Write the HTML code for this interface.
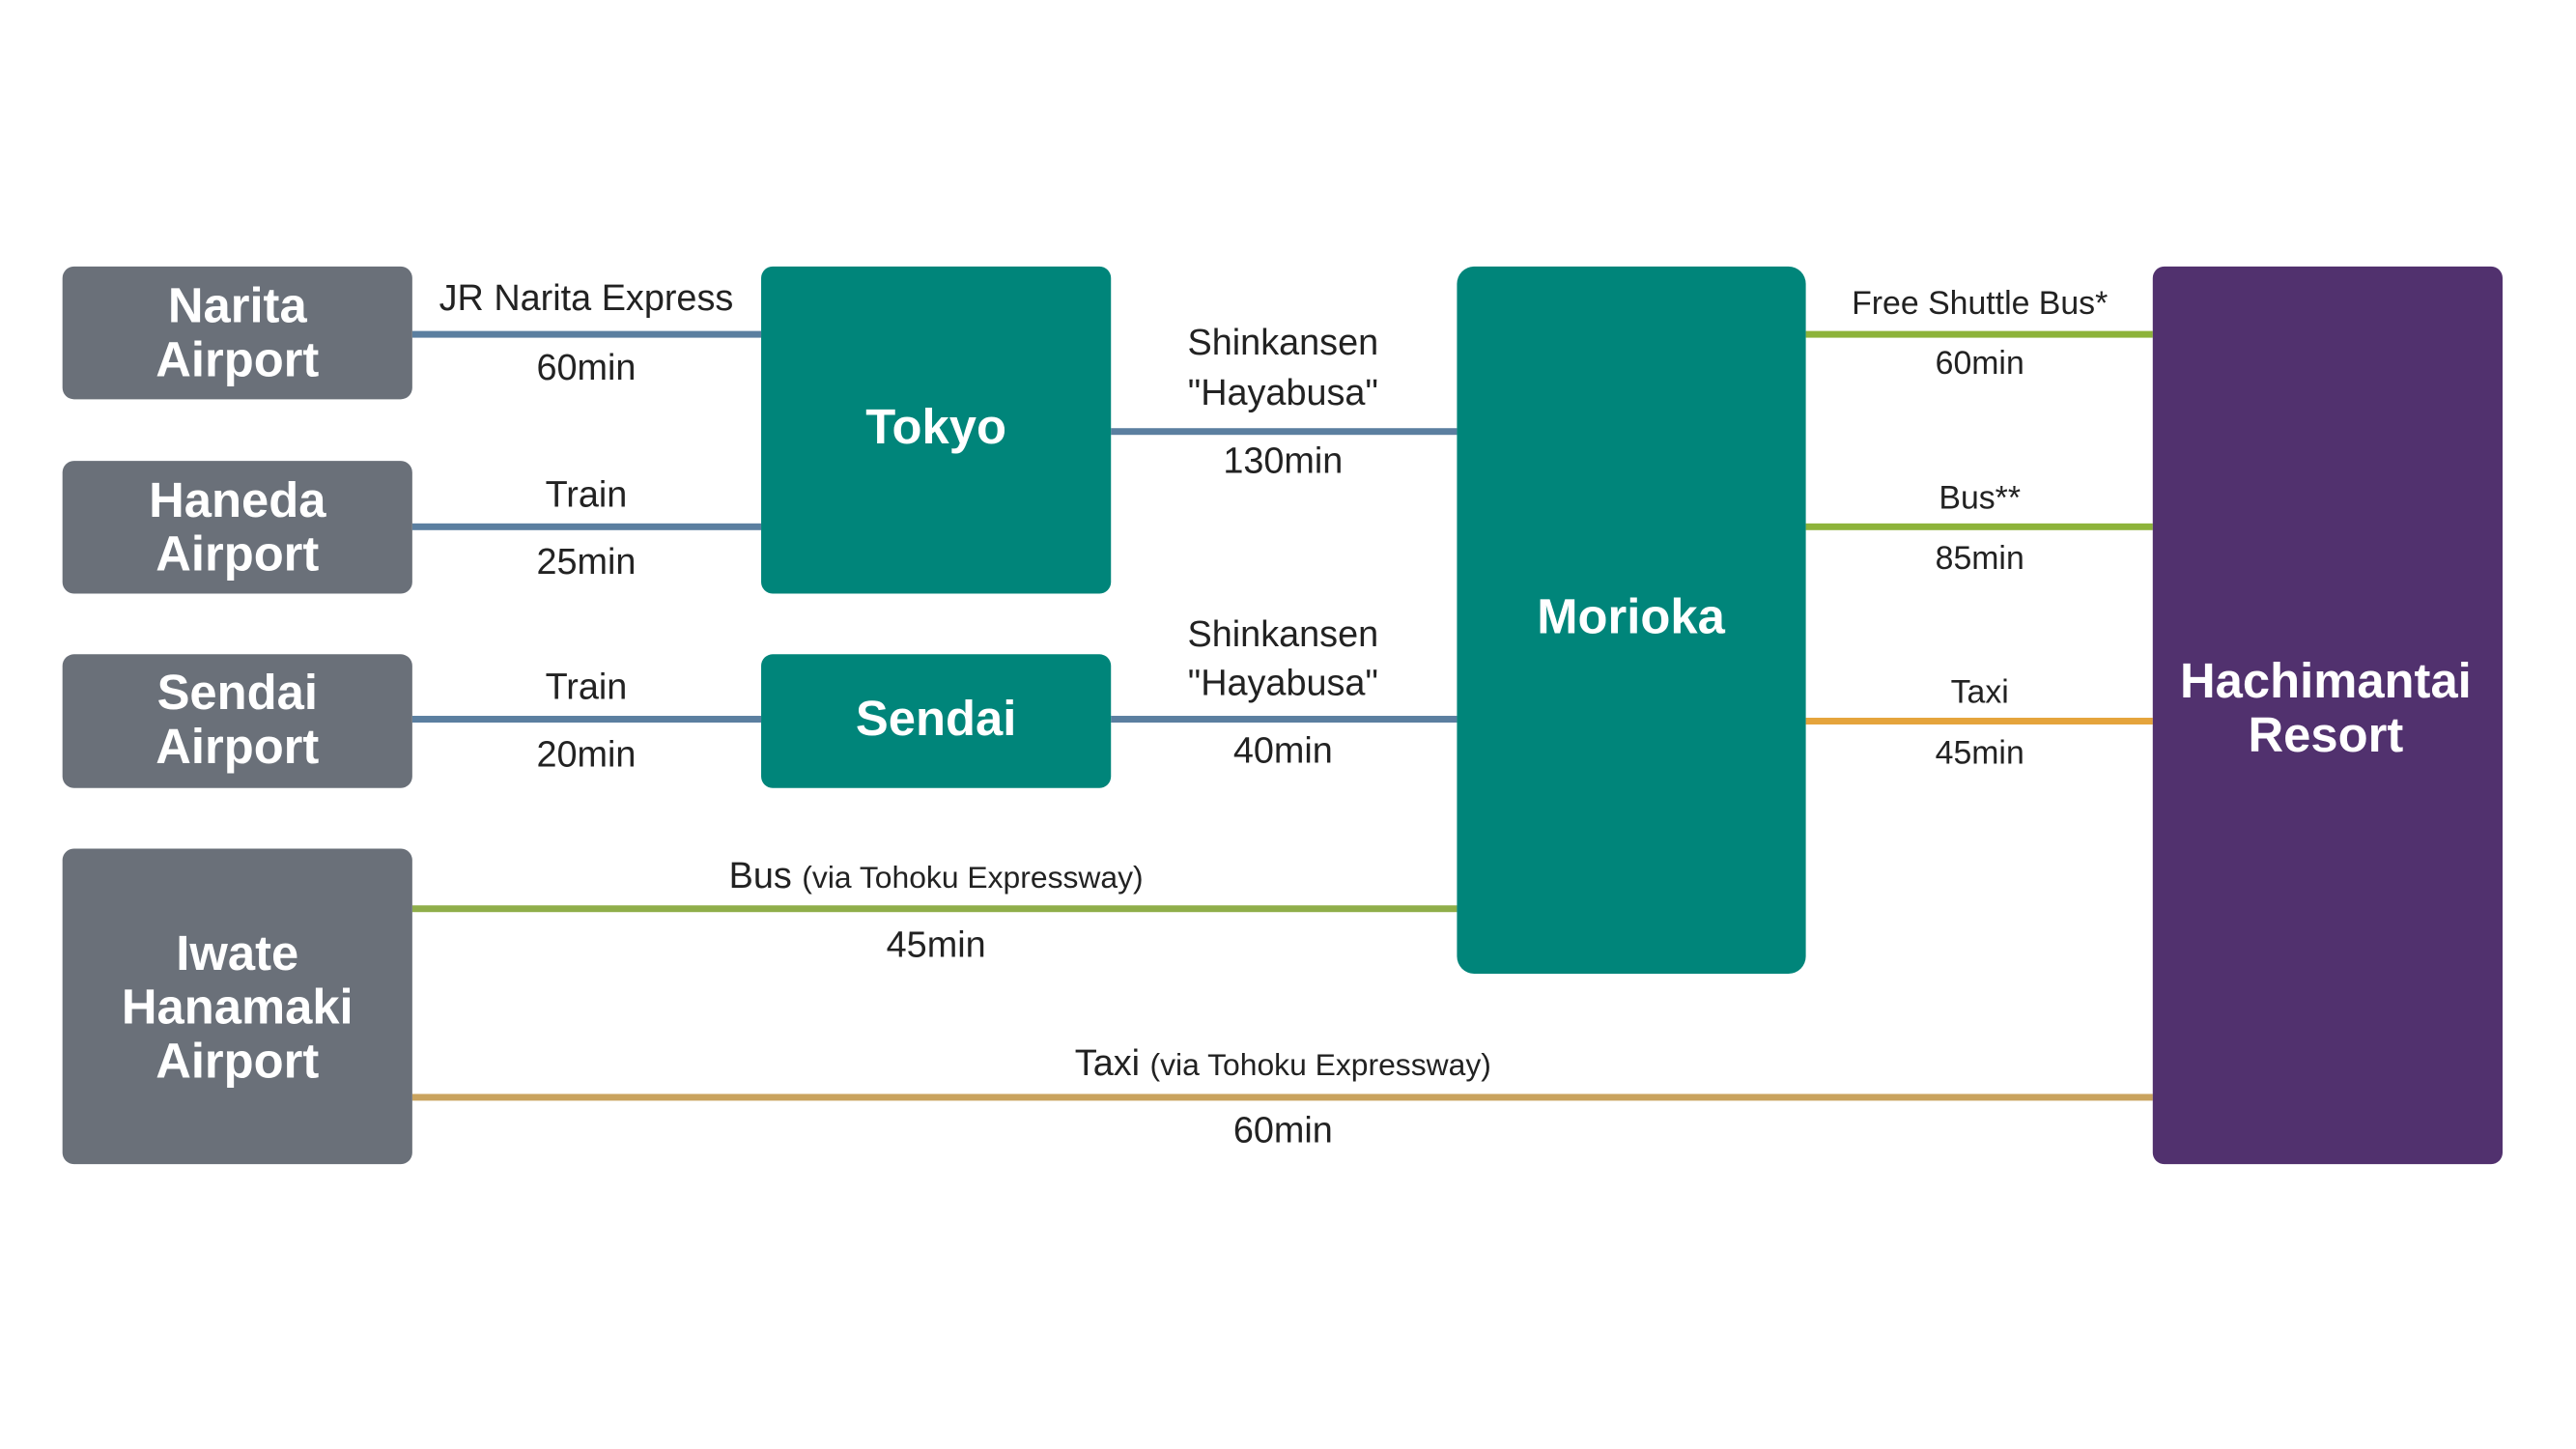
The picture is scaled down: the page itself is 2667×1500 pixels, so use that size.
<!DOCTYPE html>
<html><head><meta charset="utf-8"><style>
body{margin:0;width:2667px;height:1500px;background:#fff;position:relative;overflow:hidden;font-family:"Liberation Sans",sans-serif}
#w{position:absolute;left:0;top:0;width:2667px;height:1500px;transform:scale(0.995,0.996);transform-origin:0 0}
.b{position:absolute;border-radius:12px}
.g{background:#6a7079}.t{background:#00857a}.p{background:#51316e}
.l{position:absolute;height:7px}
.x{position:absolute;transform:translate(-50%,-50%);white-space:nowrap;text-align:center}
.w{color:#fff;font-size:51px;font-weight:bold;line-height:56px}
.k{color:#222;font-size:38px}
.s{color:#222;font-size:34px}
.sm{font-size:32px}
</style></head><body><div id="w">
<div class="l" style="left:429px;width:363px;top:344px;background:#5b7fa0"></div>
<div class="l" style="left:429px;width:363px;top:544px;background:#5b7fa0"></div>
<div class="l" style="left:429px;width:363px;top:744px;background:#5b7fa0"></div>
<div class="l" style="left:1156px;width:360px;top:445px;background:#5b7fa0"></div>
<div class="l" style="left:1156px;width:360px;top:744px;background:#5b7fa0"></div>
<div class="l" style="left:429px;width:1087px;top:941px;background:#8fae4a"></div>
<div class="l" style="left:429px;width:1811px;top:1137px;background:#c9a35e"></div>
<div class="l" style="left:1879px;width:361px;top:344px;background:#8db33a"></div>
<div class="l" style="left:1879px;width:361px;top:544px;background:#8db33a"></div>
<div class="l" style="left:1879px;width:361px;top:746px;background:#e5a43c"></div>

<div class="b g" style="left:65px;top:277px;width:364px;height:138px"></div>
<div class="b g" style="left:65px;top:479px;width:364px;height:138px"></div>
<div class="b g" style="left:65px;top:680px;width:364px;height:139px"></div>
<div class="b g" style="left:65px;top:882px;width:364px;height:328px"></div>
<div class="b t" style="left:792px;top:277px;width:364px;height:340px"></div>
<div class="b t" style="left:792px;top:680px;width:364px;height:139px"></div>
<div class="b t" style="left:1516px;top:277px;width:363px;height:735px;border-radius:18px"></div>
<div class="b p" style="left:2240px;top:277px;width:364px;height:933px"></div>

<div class="x w" style="left:247px;top:346px">Narita<br>Airport</div>
<div class="x w" style="left:247px;top:548px">Haneda<br>Airport</div>
<div class="x w" style="left:247px;top:748px">Sendai<br>Airport</div>
<div class="x w" style="left:247px;top:1047px">Iwate<br>Hanamaki<br>Airport</div>
<div class="x w" style="left:974px;top:444px">Tokyo</div>
<div class="x w" style="left:974px;top:747px">Sendai</div>
<div class="x w" style="left:1697px;top:641px">Morioka</div>
<div class="x w" style="left:2420px;top:736px">Hachimantai<br>Resort</div>

<div class="x k" style="left:610px;top:311px">JR Narita Express</div>
<div class="x k" style="left:610px;top:383px">60min</div>
<div class="x k" style="left:610px;top:515px">Train</div>
<div class="x k" style="left:610px;top:585px">25min</div>
<div class="x k" style="left:610px;top:715px">Train</div>
<div class="x k" style="left:610px;top:785px">20min</div>
<div class="x k" style="left:1335px;top:357px">Shinkansen</div>
<div class="x k" style="left:1335px;top:409px">"Hayabusa"</div>
<div class="x k" style="left:1335px;top:480px">130min</div>
<div class="x k" style="left:1335px;top:660px">Shinkansen</div>
<div class="x k" style="left:1335px;top:711px">"Hayabusa"</div>
<div class="x k" style="left:1335px;top:781px">40min</div>
<div class="x k" style="left:974px;top:911px">Bus <span class="sm">(via Tohoku Expressway)</span></div>
<div class="x k" style="left:974px;top:983px">45min</div>
<div class="x k" style="left:1335px;top:1106px">Taxi <span class="sm">(via Tohoku Expressway)</span></div>
<div class="x k" style="left:1335px;top:1176px">60min</div>
<div class="x s" style="left:2060px;top:316px">Free Shuttle Bus*</div>
<div class="x s" style="left:2060px;top:378px">60min</div>
<div class="x s" style="left:2060px;top:518px">Bus**</div>
<div class="x s" style="left:2060px;top:581px">85min</div>
<div class="x s" style="left:2060px;top:720px">Taxi</div>
<div class="x s" style="left:2060px;top:783px">45min</div>
</div></body></html>
